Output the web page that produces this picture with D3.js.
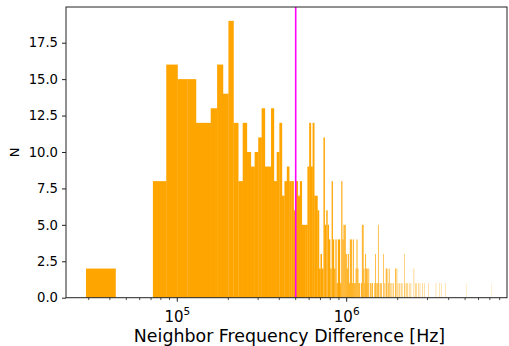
<!DOCTYPE html>
<html>
<head>
<meta charset="utf-8">
<script src="https://cdn.jsdelivr.net/npm/d3@7"></script>
<style>
  body { margin: 0; background: #fff; }
  svg { display: block; }
  text { font-family: "DejaVu Sans", sans-serif; fill: #000; }
</style>
</head>
<body>
<svg></svg>
<script>
const w = 509
const h = 346

// histogram: 500 linear bins starting at binStart
const binStart = 28900
const binWidth = 14290
const nBins = 500

// counts of the first 68 bins (up to ~1e6 Hz)
const headCounts = [
  2, 0, 0, 8, 16, 15, 15, 12, 12, 13,
  16, 14, 19, 12, 8, 12, 10, 9, 10, 11,
  13, 9, 9, 13, 8, 10, 12, 7, 8, 9,
  8, 8, 6, 8, 7, 8, 5, 5, 5, 9,
  12, 9, 12, 7, 7, 6, 2, 3, 2, 11,
  5, 6, 5, 4, 2, 8, 4, 2, 4, 1,
  4, 4, 1, 8, 4, 5, 5, 3
]

// sparse tail: bin index and count
const tailBins = [
  68, 69, 70, 71, 72, 73, 74, 75, 76, 77, 78, 79, 80, 81, 83, 84, 85, 86, 87, 88,
  89, 90, 91, 92, 94, 96, 97, 100, 101, 102, 104, 105, 106, 108, 110, 113, 115, 117, 118, 120,
  121, 123, 125, 127, 130, 133, 134, 136, 138, 141, 144, 146, 151, 152, 155, 158, 161, 165, 172, 176,
  179, 183, 187, 193, 198, 210, 233, 244, 250, 265, 352, 499
]
const tailCounts = [
  2, 3, 1, 4, 4, 1, 4, 1, 1, 2, 4, 2, 1, 1, 1, 5, 5, 2, 1, 3,
  2, 2, 1, 2, 1, 1, 1, 1, 3, 1, 1, 5, 1, 1, 1, 3, 1, 2, 2, 2,
  1, 2, 1, 1, 1, 2, 2, 2, 1, 1, 1, 1, 3, 1, 1, 1, 1, 1, 2, 1,
  1, 1, 1, 1, 1, 1, 1, 1, 1, 1, 1, 1
]

const yTicks = [0, 2.5, 5, 7.5, 10, 12.5, 15, 17.5]
const xMajor = [1e5, 1e6]
const markerFreq = 5e5

const counts = new Array(nBins).fill(0)
headCounts.forEach((c, i) => { counts[i] = c })
tailBins.forEach((b, i) => { counts[b] = tailCounts[i] })
const bins = counts.map((c, i) => ({x0: binStart + i * binWidth, x1: binStart + (i + 1) * binWidth, n: c}))

const margin = {top: 7, right: 2, bottom: 48.3, left: 66}
const innerWidth = w - margin.left - margin.right
const innerHeight = h - margin.top - margin.bottom

const svg = d3.select('svg')
  .attr('width', w)
  .attr('height', h)

const xScale = d3.scaleLog()
  .domain([Math.pow(10, 4.343), Math.pow(10, 6.9463)])
  .range([0, innerWidth])

const yScale = d3.scaleLinear()
  .domain([0, 19.95])
  .range([innerHeight, 0])

const g = svg.append('g')
  .attr('transform', `translate(${margin.left}, ${margin.top})`)

// bars (tiny overlap so neighbouring bins don't show white seams)
g.selectAll('rect.bar').data(bins.filter(d => d.n > 0))
  .enter().append('rect')
  .attr('class', 'bar')
  .attr('x', d => xScale(d.x0))
  .attr('width', d => {
    const bw = xScale(d.x1) - xScale(d.x0)
    return bw > 1.5 ? bw + 0.25 : bw
  })
  .attr('y', d => yScale(d.n))
  .attr('height', d => innerHeight - yScale(d.n))
  .attr('fill', '#FFA500')

// marker line
g.append('line')
  .attr('x1', xScale(markerFreq)).attr('x2', xScale(markerFreq))
  .attr('y1', 0).attr('y2', innerHeight)
  .attr('stroke', '#FF00FF')
  .attr('stroke-width', 1.6)

// y axis
const yAxis = d3.axisLeft(yScale)
  .tickValues(yTicks)
  .tickFormat(d3.format('.1f'))
  .tickSize(4)
  .tickPadding(4)
const yAxisG = g.append('g').call(yAxis)
yAxisG.select('.domain').remove()
yAxisG.selectAll('text').attr('font-size', 13.2).attr('font-family', '"DejaVu Sans", sans-serif').attr('fill', '#000')
yAxisG.selectAll('line').attr('stroke', '#222')

// x axis: minor ticks
const minor = []
for (let e = 4; e <= 6; e++) {
  for (let m = 2; m <= 9; m++) {
    const v = m * Math.pow(10, e)
    if (v > xScale.domain()[0] && v < xScale.domain()[1]) minor.push(v)
  }
}
g.append('g').selectAll('line').data(minor)
  .enter().append('line')
  .attr('x1', d => xScale(d)).attr('x2', d => xScale(d))
  .attr('y1', innerHeight).attr('y2', innerHeight + 2.4)
  .attr('stroke', '#222').attr('stroke-width', 0.8)

const majorG = g.append('g').selectAll('g').data(xMajor)
  .enter().append('g')
  .attr('transform', d => `translate(${xScale(d)}, ${innerHeight})`)
majorG.append('line')
  .attr('y2', 4).attr('stroke', '#222')
const majorText = majorG.append('text')
  .attr('y', 24)
  .attr('text-anchor', 'middle')
  .attr('font-size', 15)
majorText.append('tspan').text('10')
majorText.append('tspan')
  .attr('dy', -7)
  .attr('font-size', 10.5)
  .text(d => Math.round(Math.log10(d)))

// frame
g.append('rect')
  .attr('width', innerWidth).attr('height', innerHeight)
  .attr('fill', 'none').attr('stroke', '#222').attr('stroke-width', 1)

// axis labels
svg.append('text')
  .attr('x', margin.left + innerWidth / 2 + 3)
  .attr('y', 341.5)
  .attr('text-anchor', 'middle')
  .attr('font-size', 17.4)
  .text('Neighbor Frequency Difference [Hz]')

svg.append('text')
  .attr('transform', `translate(19, ${margin.top + innerHeight / 2}) rotate(-90)`)
  .attr('text-anchor', 'middle')
  .attr('font-size', 13)
  .text('N')
</script>
</body>
</html>
